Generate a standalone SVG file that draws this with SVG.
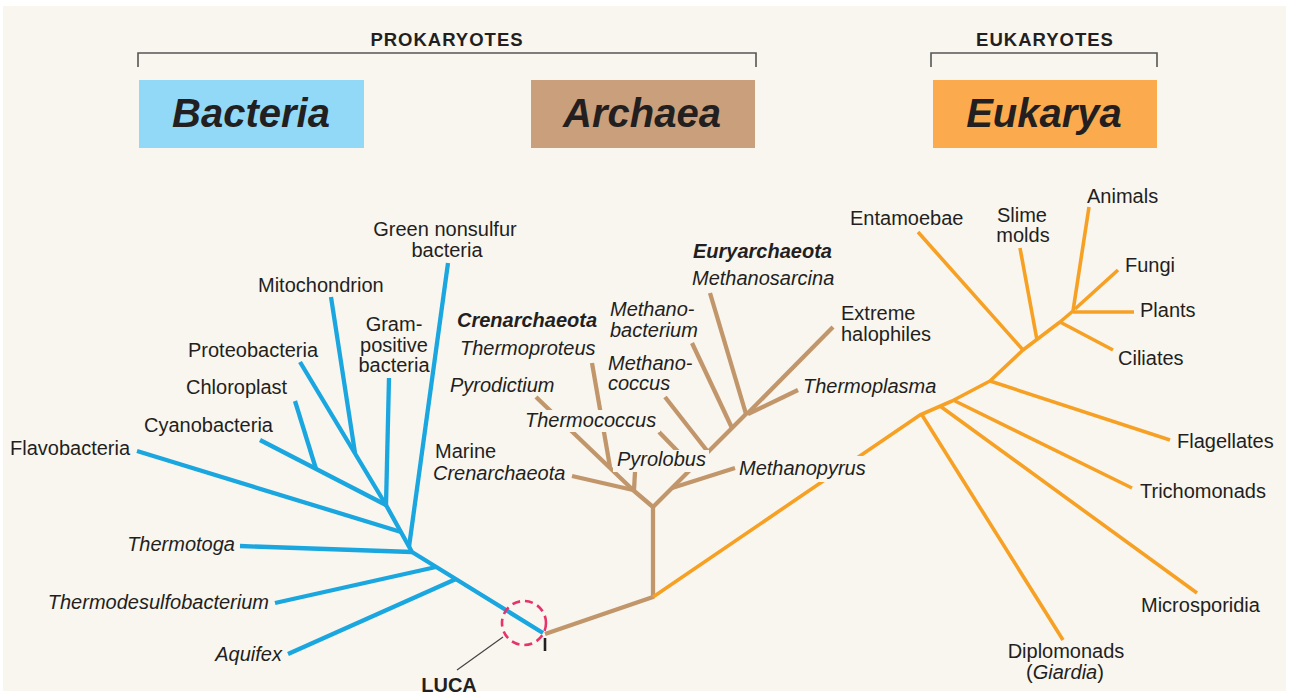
<svg xmlns="http://www.w3.org/2000/svg" width="1289" height="695" viewBox="0 0 1289 695">
<style>
.t{font-family:"Liberation Sans",Arial,Helvetica,sans-serif;font-size:20px;fill:#231f20}
.i{font-style:italic}
.b{font-weight:bold}
.m{text-anchor:middle}
.e{text-anchor:end}
.hd{font-family:"Liberation Sans",Arial,Helvetica,sans-serif;font-size:18.5px;font-weight:bold;fill:#231f20;text-anchor:middle;letter-spacing:1px}
.ttl{font-family:"Liberation Sans",Arial,Helvetica,sans-serif;font-size:40px;font-weight:bold;font-style:italic;fill:#231f20;text-anchor:middle}
.br{fill:none;stroke:#555;stroke-width:1.6}
.bl{fill:none;stroke:#1aa6df;stroke-width:4.3;stroke-linejoin:round}
.bn{fill:none;stroke:#c2966b;stroke-width:4.3;stroke-linejoin:round}
.or{fill:none;stroke:#f6a124;stroke-width:3.6;stroke-linejoin:round}
.bg{fill:#f9f6f0}
</style>
<rect width="1289" height="695" fill="#ffffff"/>
<rect x="3" y="6" width="1283" height="685" class="bg"/>

<g id="header">
  <g id="prokaryotes">
    <text class="hd" x="447" y="46">PROKARYOTES</text>
    <path class="br" d="M138,67 V53 H756 V67"/>
  </g>
  <g id="eukaryotes">
    <text class="hd" x="1045" y="46">EUKARYOTES</text>
    <path class="br" d="M931,67 V53 H1157 V67"/>
  </g>
  <g id="box-bacteria">
    <rect x="139" y="80" width="225" height="68" fill="#92d9f7"/>
    <text class="ttl" x="251" y="127">Bacteria</text>
  </g>
  <g id="box-archaea">
    <rect x="531" y="80" width="224" height="68" fill="#c9a07b"/>
    <text class="ttl" x="642" y="127">Archaea</text>
  </g>
  <g id="box-eukarya">
    <rect x="933" y="80" width="224" height="68" fill="#fbab4d"/>
    <text class="ttl" x="1044" y="127">Eukarya</text>
  </g>
</g>

<g id="connectors">
  <!-- Bacteria -->
  <polyline class="bl" points="543,633 412,552 386,505"/>
  <line class="bl" x1="448" y1="263" x2="409" y2="547"/>
  <line class="bl" x1="137" y1="451" x2="401" y2="532"/>
  <line class="bl" x1="240" y1="546" x2="412" y2="552"/>
  <line class="bl" x1="275" y1="603" x2="436" y2="567"/>
  <line class="bl" x1="288" y1="654" x2="456" y2="579"/>
  <line class="bl" x1="260" y1="440" x2="386" y2="505"/>
  <line class="bl" x1="295" y1="401" x2="316" y2="469"/>
  <line class="bl" x1="300" y1="362" x2="386" y2="505"/>
  <line class="bl" x1="331" y1="297" x2="355" y2="453"/>
  <line class="bl" x1="389" y1="378" x2="386" y2="505"/>
  <!-- Archaea -->
  <polyline class="bn" points="545,634 653,597 653,507 633,490"/>
  <line class="bn" x1="536" y1="397" x2="633" y2="490"/>
  <line class="bn" x1="572" y1="476" x2="633" y2="490"/>
  <line class="bn" x1="635" y1="472" x2="634" y2="490"/>
  <line class="bn" x1="592" y1="363" x2="610" y2="467"/>
  <line class="bn" x1="653" y1="507" x2="747" y2="413"/>
  <line class="bn" x1="735" y1="468" x2="672" y2="488"/>
  <line class="bn" x1="659" y1="432" x2="693" y2="467"/>
  <line class="bn" x1="665" y1="397" x2="708" y2="452"/>
  <line class="bn" x1="692" y1="343" x2="732" y2="428"/>
  <line class="bn" x1="710" y1="293" x2="746" y2="414"/>
  <line class="bn" x1="833" y1="327" x2="747" y2="414"/>
  <line class="bn" x1="798" y1="390" x2="748" y2="414"/>
  <!-- Eukarya -->
  <polyline class="or" points="653,597 920,415 952,401 990,381 1023,350 1060,322 1073,311"/>
  <line class="or" x1="922" y1="415" x2="1063" y2="640"/>
  <line class="or" x1="940" y1="406" x2="1197" y2="593"/>
  <line class="or" x1="953" y1="400" x2="1132" y2="488"/>
  <line class="or" x1="990" y1="381" x2="1170" y2="440"/>
  <line class="or" x1="918" y1="232" x2="1023" y2="350"/>
  <line class="or" x1="1020" y1="248" x2="1037" y2="340"/>
  <line class="or" x1="1060" y1="322" x2="1113" y2="350"/>
  <line class="or" x1="1073" y1="312" x2="1134" y2="312"/>
  <line class="or" x1="1089" y1="207" x2="1073" y2="311"/>
  <line class="or" x1="1118" y1="270" x2="1075" y2="309"/>
</g>

<g id="luca">
  <circle cx="524" cy="623" r="22" fill="none" stroke="#e6336a" stroke-width="2.6" stroke-dasharray="8,5"/>
  <line x1="545" y1="638" x2="545" y2="651" stroke="#231f20" stroke-width="2.6"/>
  <line x1="503" y1="637" x2="457" y2="670" stroke="#444" stroke-width="1.2"/>
  <text class="t b m" x="449" y="692">LUCA</text>
</g>

<!-- Bacteria labels -->
<g id="green-nonsulfur"><text class="t m" x="445" y="236">Green nonsulfur</text><text class="t m" x="447" y="257">bacteria</text></g>
<g id="mitochondrion"><text class="t" x="258" y="292">Mitochondrion</text></g>
<g id="gram-positive"><text class="t m" x="394" y="331">Gram-</text><text class="t m" x="394" y="352">positive</text><text class="t m" x="394" y="372">bacteria</text></g>
<g id="proteobacteria"><text class="t" x="188" y="357">Proteobacteria</text></g>
<g id="chloroplast"><text class="t" x="186" y="394">Chloroplast</text></g>
<g id="cyanobacteria"><text class="t" x="144" y="432">Cyanobacteria</text></g>
<g id="flavobacteria"><text class="t" x="10" y="455">Flavobacteria</text></g>
<g id="thermotoga"><text class="t i e" x="235" y="551">Thermotoga</text></g>
<g id="thermodesulfobacterium"><text class="t i e" x="269" y="609">Thermodesulfobacterium</text></g>
<g id="aquifex"><text class="t i e" x="282" y="661">Aquifex</text></g>

<!-- Archaea labels -->
<g id="euryarchaeota"><text class="t b i" x="693" y="258">Euryarchaeota</text></g>
<g id="methanosarcina"><text class="t i" x="692" y="285">Methanosarcina</text></g>
<g id="methanobacterium"><text class="t i" x="610" y="316">Methano-</text><text class="t i" x="610" y="337">bacterium</text></g>
<g id="crenarchaeota"><text class="t b i" x="457" y="327">Crenarchaeota</text></g>
<g id="thermoproteus"><text class="t i" x="460" y="355">Thermoproteus</text></g>
<g id="methanococcus"><text class="t i" x="608" y="370">Methano-</text><text class="t i" x="608" y="390">coccus</text></g>
<g id="pyrodictium"><text class="t i" x="450" y="392">Pyrodictium</text></g>
<g id="thermococcus"><rect class="bg" x="522" y="410" width="138" height="22"/><text class="t i" x="525" y="427">Thermococcus</text></g>
<g id="marine-crenarchaeota"><text class="t" x="435" y="458">Marine</text><text class="t i" x="433" y="480">Crenarchaeota</text></g>
<g id="pyrolobus"><rect class="bg" x="613" y="450" width="96" height="22"/><text class="t i" x="617" y="466">Pyrolobus</text></g>
<g id="methanopyrus"><rect class="bg" x="738" y="456" width="130" height="26"/><text class="t i" x="739" y="475">Methanopyrus</text></g>
<g id="extreme-halophiles"><text class="t" x="841" y="320">Extreme</text><text class="t" x="841" y="341">halophiles</text></g>
<g id="thermoplasma"><text class="t i" x="803" y="393">Thermoplasma</text></g>

<!-- Eukarya labels -->
<g id="entamoebae"><text class="t" x="850" y="225">Entamoebae</text></g>
<g id="slime-molds"><text class="t m" x="1022" y="222">Slime</text><text class="t m" x="1023" y="242">molds</text></g>
<g id="animals"><text class="t" x="1087" y="203">Animals</text></g>
<g id="fungi"><text class="t" x="1125" y="272">Fungi</text></g>
<g id="plants"><text class="t" x="1140" y="317">Plants</text></g>
<g id="ciliates"><text class="t" x="1118" y="365">Ciliates</text></g>
<g id="flagellates"><text class="t" x="1177" y="448">Flagellates</text></g>
<g id="trichomonads"><text class="t" x="1140" y="498">Trichomonads</text></g>
<g id="microsporidia"><text class="t" x="1141" y="612">Microsporidia</text></g>
<g id="diplomonads"><text class="t m" x="1066" y="658">Diplomonads</text><text class="t m" x="1065" y="679">(<tspan class="i">Giardia</tspan>)</text></g>
</svg>
